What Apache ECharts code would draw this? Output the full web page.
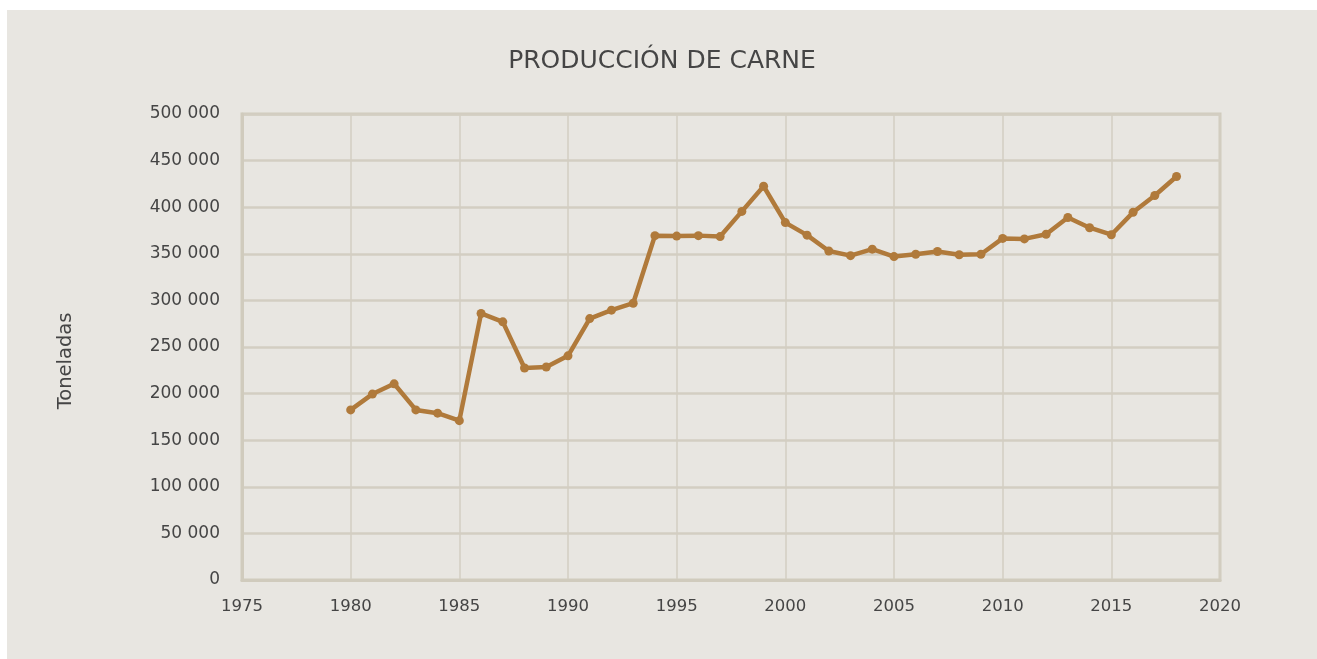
<!DOCTYPE html>
<html>
<head>
<meta charset="utf-8">
<script src="https://cdn.jsdelivr.net/npm/echarts@6/dist/echarts.min.js"></script>
<style>
  html, body { margin: 0; padding: 0; background: #ffffff; }
  #chart { position: absolute; left: 7px; top: 10px; width: 1310px; height: 649px; }
</style>
</head>
<body>
<div id="chart"></div>
<script>
const years = [1980, 1981, 1982, 1983, 1984, 1985, 1986, 1987, 1988, 1989,
  1990, 1991, 1992, 1993, 1994, 1995, 1996, 1997, 1998, 1999,
  2000, 2001, 2002, 2003, 2004, 2005, 2006, 2007, 2008, 2009,
  2010, 2011, 2012, 2013, 2014, 2015, 2016, 2017, 2018];
const toneladas = [182500, 199500, 210500, 182500, 179000, 171000, 286000, 277000, 227500, 228500,
  240500, 280500, 289500, 297000, 369500, 369000, 369500, 368500, 395500, 422500,
  383500, 370000, 353000, 348000, 355000, 347000, 349500, 352500, 349000, 349500,
  366500, 366000, 371000, 389000, 378000, 370500, 394500, 412500, 433000];

const textColor = '#454545';
const gridColor = '#d3cec2';
const font = 'DejaVu Sans';

const chart = echarts.init(document.getElementById('chart'), null, {renderer: 'canvas'});
const option = {
  backgroundColor: '#e8e6e1',
  animation: false,
  title: {
    text: 'PRODUCCIÓN DE CARNE',
    left: 'center',
    top: 34,
    textStyle: {
      color: textColor,
      fontFamily: font,
      fontWeight: 'normal',
      fontSize: 25
    }
  },
  grid: {
    left: 235,
    right: 97,
    top: 104,
    bottom: 79,
    show: true,
    borderColor: '#d0cbbd',
    borderWidth: 3
  },
  xAxis: {
    type: 'value',
    min: 1975,
    max: 2020,
    interval: 5,
    axisLine: {show: true, lineStyle: {color: '#d0cbbd', width: 3}},
    axisTick: {show: false},
    axisLabel: {
      color: textColor,
      fontFamily: font,
      fontSize: 16.5,
      margin: 18,
      formatter: (v) => String(v)
    },
    splitLine: {show: true, lineStyle: {color: gridColor, width: 1.5}}
  },
  yAxis: {
    type: 'value',
    min: 0,
    max: 500000,
    interval: 50000,
    name: 'Toneladas',
    nameLocation: 'middle',
    nameGap: 166,
    nameRotate: 90,
    nameTextStyle: {
      color: textColor,
      fontFamily: font,
      fontSize: 19.5,
      padding: [0, 28, 0, 0]
    },
    axisLine: {show: true, lineStyle: {color: '#d0cbbd', width: 3}},
    axisTick: {show: false},
    axisLabel: {
      color: textColor,
      fontFamily: font,
      fontSize: 17,
      margin: 22,
      formatter: (v) => String(v).replace(/\B(?=(\d{3})+(?!\d))/g, ' ')
    },
    splitLine: {show: true, lineStyle: {color: gridColor, width: 2.5}}
  },
  series: [{
    type: 'line',
    data: years.map((y, i) => [y, toneladas[i]]),
    symbol: 'circle',
    symbolSize: 9,
    showSymbol: true,
    lineStyle: {color: '#b07a3b', width: 4.5},
    itemStyle: {color: '#b07a3b'}
  }]
};
chart.setOption(option);
</script>
</body>
</html>
